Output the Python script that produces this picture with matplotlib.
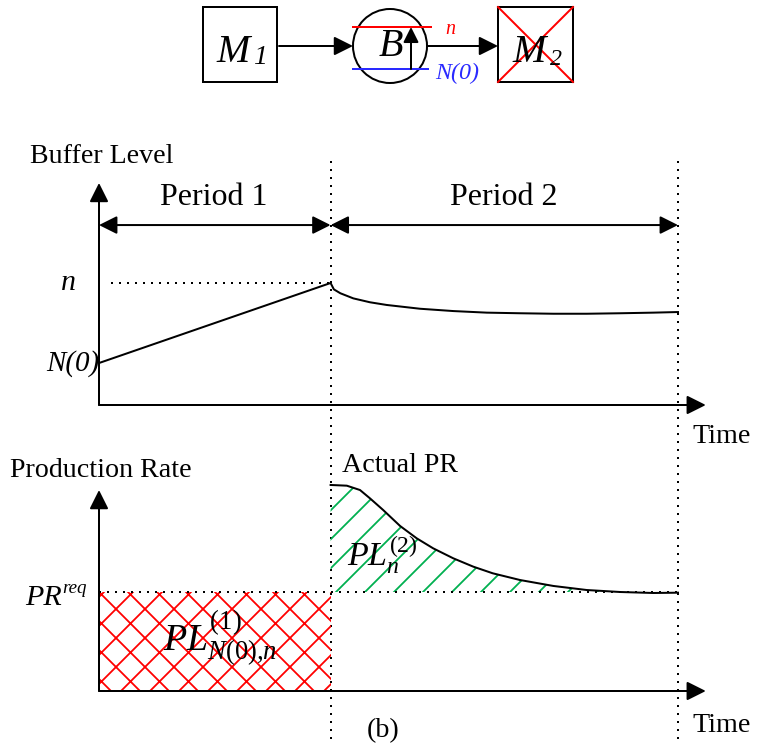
import matplotlib
matplotlib.use("Agg")
import matplotlib.pyplot as plt
from matplotlib.patches import Rectangle, Circle

# ---- data (time in units of period 1, levels normalised) ----
T_P1 = 1.0            # end of period 1
T_P2 = 2.5            # end of period 2
N0 = 0.344            # initial buffer level N(0), with n = 1
N_CAP = 1.0
PR_REQ = 1.0

buf_t = [0.0, 1.0, 1.014, 1.042, 1.098, 1.170, 1.242, 1.386, 1.530, 1.674,
         1.818, 1.962, 2.106, 2.25, 2.393, 2.5]
buf_v = [0.344, 1.0, 0.948, 0.916, 0.874, 0.842, 0.820, 0.789, 0.770, 0.757,
         0.752, 0.748, 0.748, 0.752, 0.757, 0.762]

pr_t = [1.0, 1.07, 1.127, 1.17, 1.227, 1.30, 1.372, 1.443, 1.53, 1.616,
        1.70, 1.818, 1.962, 2.106, 2.25, 2.393, 2.5]
pr_v = [2.081, 2.074, 2.03, 1.946, 1.828, 1.667, 1.542, 1.441, 1.34, 1.256,
        1.189, 1.121, 1.061, 1.02, 1.0, 0.99, 0.993]

# ---- figure set-up (sizes given in pixels) ----
D = 174
W, H = 757, 748
P = 72 / D  # points per pixel

plt.rcParams["font.family"] = "Liberation Serif"
plt.rcParams["mathtext.fontset"] = "custom"
plt.rcParams["mathtext.rm"] = "Liberation Serif"
plt.rcParams["mathtext.it"] = "Liberation Serif:italic"
plt.rcParams["hatch.linewidth"] = 1.8 * P

fig = plt.figure(figsize=(W / D, H / D), dpi=D)


def px_axes(left, bottom, width, height):
    return fig.add_axes([left / W, 1 - bottom / H, width / W, height / H])


LW = 2 * P
DOT = dict(color="black", lw=2 * P, linestyle=(0, (1, 3)), clip_on=False)
ARR = dict(arrowstyle="-|>", lw=LW, color="black", mutation_scale=40 * P,
           shrinkA=0, shrinkB=0)
DARR = dict(ARR, arrowstyle="<|-|>", mutation_scale=38 * P)

X0, TPX, T_MAX = 99, 231.6, 2.62
BUF_MAX, BUF_PX = 1.82, 122
PR_MAX, PR_PX = 2.03, 99

ax_buf = px_axes(X0, 405, T_MAX * TPX, BUF_MAX * BUF_PX)
ax_pr = px_axes(X0, 691, T_MAX * TPX, PR_MAX * PR_PX)
for ax, top in ((ax_buf, BUF_MAX), (ax_pr, PR_MAX)):
    ax.set_xlim(0, T_MAX)
    ax.set_ylim(0, top)
    ax.axis("off")
    ax.annotate("", xy=(0, top), xytext=(0, 0), arrowprops=ARR, annotation_clip=False)
    ax.annotate("", xy=(T_MAX, 0), xytext=(0, 0), arrowprops=ARR, annotation_clip=False)

# buffer level panel
ax_buf.plot(buf_t, buf_v, color="black", lw=LW, zorder=3)
ax_buf.plot([0.05, T_P1], [N_CAP, N_CAP], **DOT)
for t in (T_P1, T_P2):
    ax_buf.plot([t, t], [2.0, -2.79], **DOT)
ax_buf.annotate("", xy=(T_P1, 1.475), xytext=(0, 1.475), arrowprops=DARR, annotation_clip=False)
ax_buf.annotate("", xy=(T_P2, 1.475), xytext=(T_P1, 1.475), arrowprops=DARR, annotation_clip=False)
ax_buf.text(-0.1, N_CAP, "n", style="italic", fontsize=30 * P, ha="right", va="center")
ax_buf.text(0.0, N0, "N(0)", style="italic", fontsize=29 * P, ha="right", va="center")

# production rate panel
ax_pr.fill_between([0, T_P1], 0, PR_REQ, facecolor="none", edgecolor="red",
                   hatch="xx", linewidth=0)
ax_pr.fill_between(pr_t, pr_v, PR_REQ, facecolor="none", edgecolor="#00b050",
                   hatch="//", linewidth=0, clip_on=False)
ax_pr.plot(pr_t, pr_v, color="black", lw=LW, zorder=3, clip_on=False)
ax_pr.plot([0, T_P2], [PR_REQ, PR_REQ], **DOT)

# overlay for labels and the top diagram (pixel coordinates)
ov = fig.add_axes([0, 0, 1, 1])
ov.set_xlim(0, W)
ov.set_ylim(H, 0)
ov.axis("off")

ov.text(30, 163, "Buffer Level", fontsize=28 * P, ha="left", va="baseline")
ov.text(214, 205, "Period 1", fontsize=32 * P, ha="center", va="baseline")
ov.text(504, 205, "Period 2", fontsize=32 * P, ha="center", va="baseline")
ov.text(692, 443, "Time", fontsize=28 * P, ha="left", va="baseline")
ov.text(10, 477, "Production Rate", fontsize=28 * P, ha="left", va="baseline")
ov.text(342, 472, "Actual PR", fontsize=28 * P, ha="left", va="baseline")
ov.text(692, 732, "Time", fontsize=28 * P, ha="left", va="baseline")
ov.text(383, 731, "(b)", fontsize=28 * P, ha="center", va="center")
ov.text(62, 605, "PR", style="italic", fontsize=30 * P, ha="right", va="baseline")
ov.text(62, 593, "req", style="italic", fontsize=19 * P, ha="left", va="baseline")
ov.text(163, 650, "$PL^{(1)}_{N(0){,}n}$", fontsize=38 * P, ha="left", va="baseline")
ov.text(347, 566, "$PL_{n}^{(2)}$", fontsize=34 * P, ha="left", va="baseline")

# M1 -> B -> M2 diagram
ov.add_patch(Rectangle((203, 7), 74, 75, fill=False, lw=LW, ec="black"))
ov.text(216, 62, "M", style="italic", fontsize=40 * P, ha="left", va="baseline")
ov.text(254, 64, "1", style="italic", fontsize=28 * P, ha="left", va="baseline")
ov.annotate("", xy=(353, 46), xytext=(279, 46), arrowprops=ARR)
ov.add_patch(Circle((390, 46), 37, fill=False, lw=LW, ec="black"))
ov.plot([353, 431], [27, 27], color="red", lw=LW)
ov.plot([353, 428], [69, 69], color="#2a2aff", lw=LW)
ov.annotate("", xy=(411, 27), xytext=(411, 69), arrowprops=dict(ARR, mutation_scale=32 * P))
ov.text(391, 46, "B", style="italic", fontsize=40 * P, ha="center", va="center")
ov.text(450, 29, "n", style="italic", color="red", fontsize=20 * P, ha="center", va="center")
ov.text(457, 73, "N(0)", style="italic", color="#2a2aff", fontsize=24 * P, ha="center", va="center")
ov.annotate("", xy=(498, 46), xytext=(427, 46), arrowprops=ARR)
ov.add_patch(Rectangle((498, 7), 75, 75, fill=False, lw=LW, ec="black"))
ov.text(512, 62, "M", style="italic", fontsize=40 * P, ha="left", va="baseline")
ov.text(550, 65, "2", style="italic", fontsize=24 * P, ha="left", va="baseline")
ov.plot([498, 573], [7, 82], color="red", lw=LW)
ov.plot([498, 573], [82, 7], color="red", lw=LW)

fig.savefig("out.png", dpi=D)
